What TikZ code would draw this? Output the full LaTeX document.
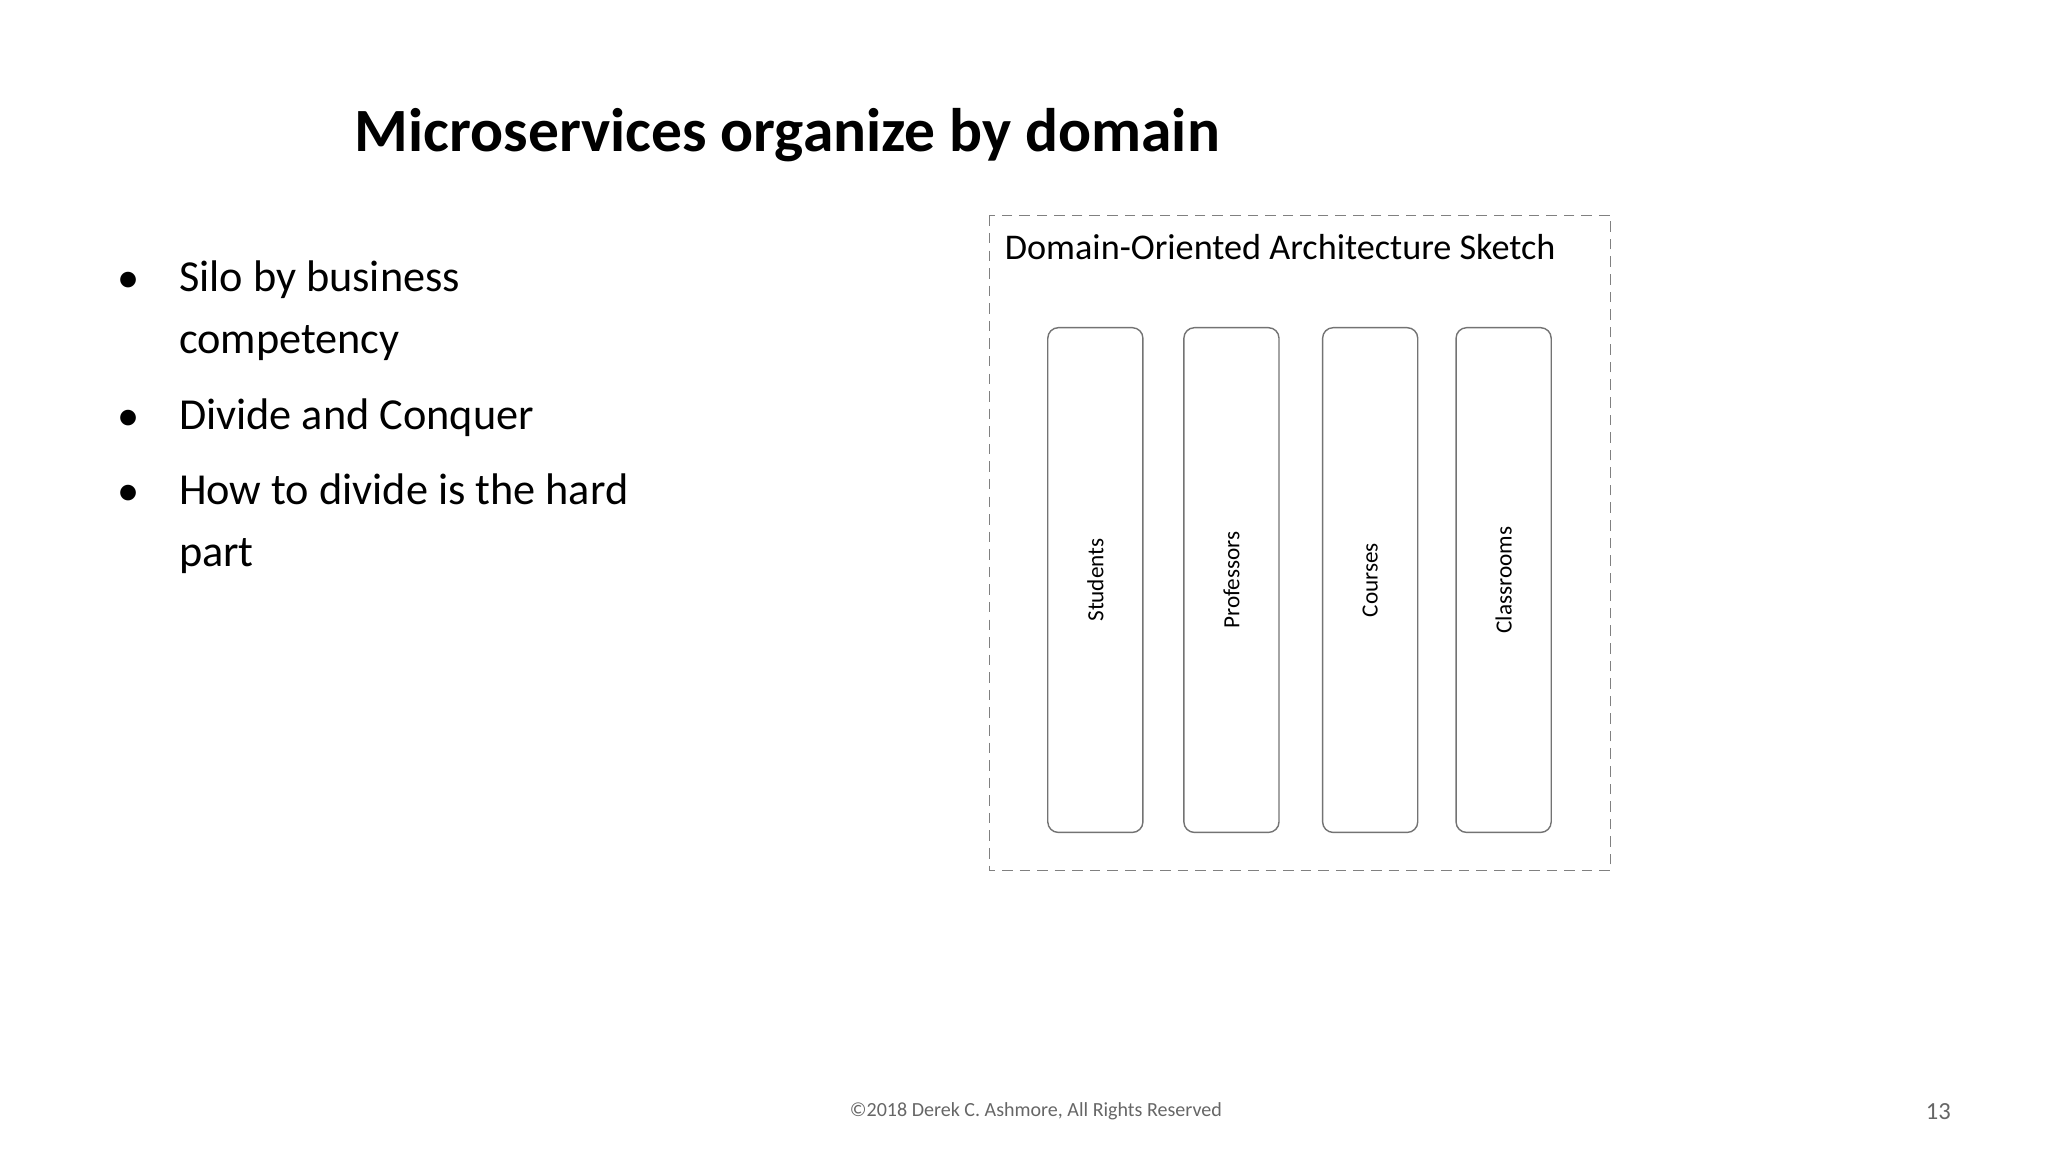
\documentclass[tikz,border=0pt]{standalone}
\usepackage{fontspec}
\setmainfont{Carlito}
\begin{document}
\begin{tikzpicture}[x=0.013213cm,y=-0.013213cm,
  col/.style={draw=black!55,rounded corners=4pt,minimum width=71\pgflinewidth,inner sep=0pt},
  lbl/.style={rotate=90,font=\fontsize{6.6}{8}\selectfont},
  bul/.style={anchor=north west,font=\fontsize{12.6}{17.6}\selectfont,align=left,inner sep=0pt}]
\useasboundingbox (0,0) rectangle (1550,872);
\node[anchor=west,inner sep=0pt,font=\fontsize{17.5}{20}\selectfont\bfseries] (title) at (268,102) {Microservices organize by domain};
\node[inner sep=0pt,font=\fontsize{12.6}{14}\selectfont] (b1) at (97,214) {•};
\node[bul] (t1) at (135,197) {Silo by business\\competency};
\node[inner sep=0pt,font=\fontsize{12.6}{14}\selectfont] (b2) at (97,318) {•};
\node[bul] (t2) at (135,301) {Divide and Conquer};
\node[inner sep=0pt,font=\fontsize{12.6}{14}\selectfont] (b3) at (97,375) {•};
\node[bul] (t3) at (135,358) {How to divide is the hard\\part};
\draw[black!50,densely dashed,line width=0.4pt] (749,163) rectangle (1219,659);
\node[anchor=west,inner sep=0pt,font=\fontsize{10.3}{12}\selectfont] (hdr) at (760,187) {Domain-Oriented Architecture Sketch};
\foreach \x/\n/\t in {829/s/Students,932/p/Professors,1037/c/Courses,1138/r/Classrooms}{
  \draw[black!55,rounded corners=3pt] (\x-36,248) rectangle (\x+36,630);
  \node[lbl] (\n) at (\x,439) {\t};
}
\node[inner sep=0pt,text=black!60,font=\fontsize{5.7}{7}\selectfont] (foot) at (784,841) {©2018 Derek C. Ashmore, All Rights Reserved};
\node[inner sep=0pt,text=black!60,font=\fontsize{7}{8}\selectfont] (num) at (1467,841) {13};
\end{tikzpicture}
\end{document}
